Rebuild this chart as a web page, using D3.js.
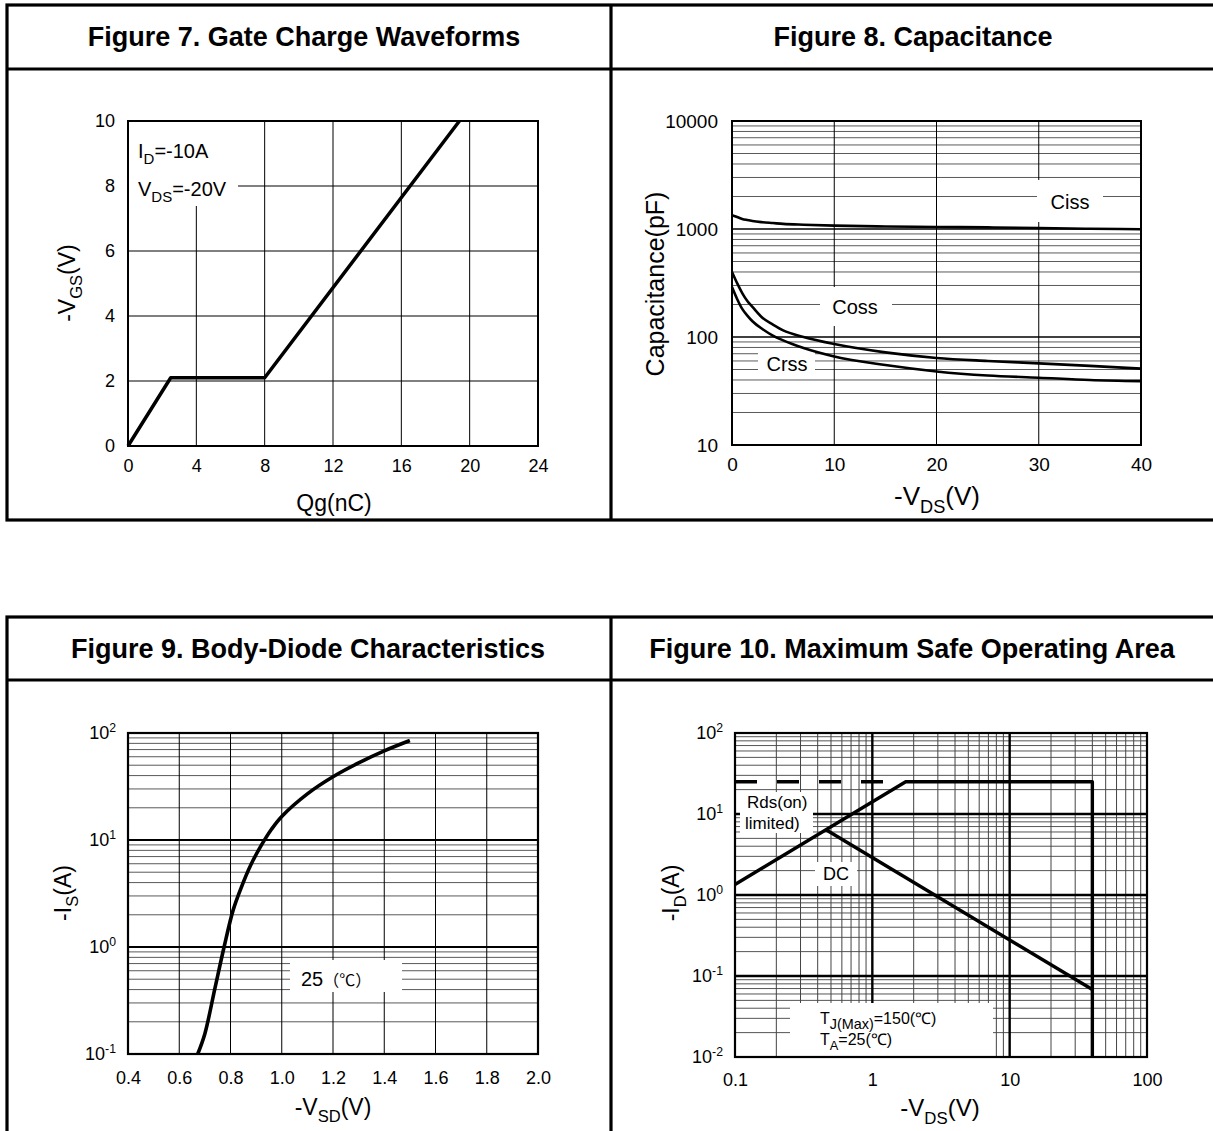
<!DOCTYPE html>
<html><head><meta charset="utf-8">
<script src="https://cdn.jsdelivr.net/npm/d3@7"></script>
<style>body{margin:0;background:#fff} svg{display:block} text{font-family:"Liberation Sans",Arial,Helvetica,sans-serif;fill:#000}</style>
</head><body><svg id="c" width="1213" height="1131"></svg>
<script>
// ---------- data ----------
const gateChargeQ = [0, 2.5, 8, 19.4];
const gateChargeV = [0, 2.1, 2.1, 10];
const fig7XTicks = [0, 4, 8, 12, 16, 20, 24];
const fig7YTicks = [0, 2, 4, 6, 8, 10];

const capVds = [0, 0.5, 1, 1.5, 2, 3, 4, 5, 7, 10, 15, 20, 25, 30, 35, 40];
const cissValues = [1340, 1290, 1240, 1210, 1185, 1155, 1135, 1115, 1095, 1075, 1055, 1045, 1035, 1020, 1005, 995];
const cossValues = [400, 315, 255, 215, 190, 150, 130, 115, 100, 86, 72, 64, 60, 57, 54, 51];
const crssValues = [290, 225, 182, 158, 140, 118, 103, 93, 79, 66, 55, 48, 44, 42, 40, 39];
const fig8XTicks = [0, 10, 20, 30, 40];
const fig8YTicks = [10, 100, 1000, 10000];

const diodeVsd = [0.672, 0.70, 0.74, 0.775, 0.81, 0.84, 0.88, 0.92, 0.96, 1.0, 1.1, 1.2, 1.3, 1.4, 1.5];
const diodeIs = [0.1, 0.155, 0.42, 1.0, 2.2, 3.5, 5.9, 8.9, 12.6, 16.6, 27, 39, 52.5, 68, 85];
const fig9XTicks = [0.4, 0.6, 0.8, 1.0, 1.2, 1.4, 1.6, 1.8, 2.0];
const fig9YTicks = [0.1, 1, 10, 100];

const soaVds = [0.1, 1.75, 40, 40];
const soaId = [1.35, 25, 25, 0.01];
const dcVds = [0.46, 40];
const dcId = [6.4, 0.068];
const rdsDashVds = [0.1, 1.25];
const rdsDashId = [25, 25];
const fig10XTicks = [0.1, 1, 10, 100];
const fig10YTicks = [0.01, 0.1, 1, 10, 100];

// ---------- helpers ----------
const svg = d3.select("#c");
function rich(sel, parts, size, subRatio) {
  const r = subRatio || 0.7;
  let shift = 0;
  parts.forEach(([s, kind]) => {
    const target = kind === 'sub' ? size * 0.32 : kind === 'sup' ? -size * 0.42 : 0;
    sel.append("tspan").attr("dy", target - shift).attr("font-size", kind === 'n' ? size : size * r).text(s);
    shift = target;
  });
  return sel;
}
function styleAxis(a, size) {
  a.attr("font-family", null).attr("font-size", null);
  a.select(".domain").remove();
  a.selectAll(".tick line").remove();
  a.selectAll("text").attr("font-size", size).attr("fill", "#000");
}
function powLabels(a, size) {
  a.selectAll(".tick text").each(function (d) {
    const e = Math.round(Math.log10(d));
    const t = d3.select(this);
    t.text("10");
    t.append("tspan").attr("dy", -size * 0.42).attr("font-size", size * 0.68).text(e);
  });
}
function minorLog(domain) {
  const out = [];
  for (let d = domain[0]; d < domain[1] * 0.999; d *= 10) {
    for (let k = 2; k <= 9; k++) out.push(d * k);
  }
  return out;
}
function whiteBox(g, x, y, w, h) {
  g.append("rect").attr("x", x).attr("y", y).attr("width", w).attr("height", h).attr("fill", "#fff");
}
function hLines(g, vals, xs, ys, stroke, w) {
  g.append("g").selectAll("line").data(vals).join("line")
    .attr("x1", xs.range()[0]).attr("x2", xs.range()[1])
    .attr("y1", d => ys(d)).attr("y2", d => ys(d))
    .attr("stroke", stroke).attr("stroke-width", w);
}
function vLines(g, vals, xs, ys, stroke, w) {
  g.append("g").selectAll("line").data(vals).join("line")
    .attr("y1", ys.range()[0]).attr("y2", ys.range()[1])
    .attr("x1", d => xs(d)).attr("x2", d => xs(d))
    .attr("stroke", stroke).attr("stroke-width", w);
}
function frame(g, xs, ys, w) {
  const [x0, x1] = xs.range(), [y1, y0] = ys.range();
  g.append("rect").attr("x", x0).attr("y", y0).attr("width", x1 - x0).attr("height", y1 - y0)
    .attr("fill", "none").attr("stroke", "#000").attr("stroke-width", w);
}
function curve(g, xsArr, ysArr, xs, ys, w, c, dash) {
  const p = g.append("path").datum(d3.zip(xsArr, ysArr))
    .attr("d", d3.line().x(d => xs(d[0])).y(d => ys(d[1])).curve(c || d3.curveLinear))
    .attr("fill", "none").attr("stroke", "#000").attr("stroke-width", w).attr("stroke-linejoin", "round");
  if (dash) p.attr("stroke-dasharray", dash);
  return p;
}

// ---------- tables ----------
function table(top, head, bottom) {
  const g = svg.append("g").attr("stroke", "#000").attr("stroke-width", 3.2).attr("fill", "none");
  g.append("rect").attr("x", 7).attr("y", top).attr("width", 1213).attr("height", bottom - top);
  g.append("line").attr("x1", 7).attr("x2", 1213).attr("y1", head).attr("y2", head);
  g.append("line").attr("x1", 611).attr("x2", 611).attr("y1", top).attr("y2", bottom);
}
table(5, 69, 520);
table(617, 680, 1140);
const titles = [
  ["Figure 7. Gate Charge Waveforms", 304, 46],
  ["Figure 8. Capacitance", 913, 46],
  ["Figure 9. Body-Diode Characteristics", 308, 658],
  ["Figure 10. Maximum Safe Operating Area", 912, 658]
];
svg.append("g").selectAll("text").data(titles).join("text")
  .attr("x", d => d[1]).attr("y", d => d[2]).attr("text-anchor", "middle")
  .attr("font-size", 27).attr("font-weight", "bold").text(d => d[0]);

// ---------- Figure 7 ----------
{
  const xs = d3.scaleLinear().domain([0, 24]).range([128, 538]);
  const ys = d3.scaleLinear().domain([0, 10]).range([446, 121]);
  const g = svg.append("g");
  vLines(g, fig7XTicks.slice(1, -1), xs, ys, "#000", 1);
  hLines(g, fig7YTicks.slice(1, -1), xs, ys, "#000", 1);
  whiteBox(g, 129, 122, 109, 84);
  frame(g, xs, ys, 2);
  curve(g, gateChargeQ, gateChargeV, xs, ys, 3.5);
  const ax = g.append("g").attr("transform", `translate(0,${ys(0)})`)
    .call(d3.axisBottom(xs).tickValues(fig7XTicks).tickSize(0).tickPadding(13).tickFormat(d3.format("d")));
  styleAxis(ax, 18);
  const ay = g.append("g").attr("transform", `translate(${xs(0)},0)`)
    .call(d3.axisLeft(ys).tickValues(fig7YTicks).tickSize(0).tickPadding(13).tickFormat(d3.format("d")));
  styleAxis(ay, 18);
  rich(g.append("text").attr("x", 138).attr("y", 158), [["I", "n"], ["D", "sub"], ["=-10A", "n"]], 20, 0.75);
  rich(g.append("text").attr("x", 138).attr("y", 196), [["V", "n"], ["DS", "sub"], ["=-20V", "n"]], 20, 0.75);
  g.append("text").attr("x", 334).attr("y", 511).attr("text-anchor", "middle").attr("font-size", 23).text("Qg(nC)");
  rich(g.append("text").attr("transform", "translate(75,283) rotate(-90)").attr("text-anchor", "middle"),
    [["-V", "n"], ["GS", "sub"], ["(V)", "n"]], 23, 0.72);
}

// ---------- Figure 8 ----------
{
  const xs = d3.scaleLinear().domain([0, 40]).range([732, 1141]);
  const ys = d3.scaleLog().domain([10, 10000]).range([445, 121]);
  const g = svg.append("g");
  hLines(g, minorLog([10, 10000]), xs, ys, "#5a5a5a", 1);
  hLines(g, [100, 1000], xs, ys, "#000", 1.6);
  vLines(g, fig8XTicks.slice(1, -1), xs, ys, "#000", 1);
  whiteBox(g, 1037, 180, 66, 42);
  whiteBox(g, 820, 287, 72, 39);
  whiteBox(g, 758, 350, 57, 28);
  frame(g, xs, ys, 2);
  curve(g, capVds, cissValues, xs, ys, 2.6, d3.curveMonotoneX);
  curve(g, capVds, cossValues, xs, ys, 2.6, d3.curveMonotoneX);
  curve(g, capVds, crssValues, xs, ys, 2.6, d3.curveMonotoneX);
  const ax = g.append("g").attr("transform", `translate(0,${ys(10)})`)
    .call(d3.axisBottom(xs).tickValues(fig8XTicks).tickSize(0).tickPadding(13).tickFormat(d3.format("d")));
  styleAxis(ax, 19);
  const ay = g.append("g").attr("transform", `translate(${xs(0)},0)`)
    .call(d3.axisLeft(ys).tickValues(fig8YTicks).tickSize(0).tickPadding(14).tickFormat(d3.format("d")));
  styleAxis(ay, 19);
  [["Ciss", 1070, 209], ["Coss", 855, 314], ["Crss", 787, 371]].forEach(([t, x, y]) =>
    g.append("text").attr("x", x).attr("y", y).attr("text-anchor", "middle").attr("font-size", 20).text(t));
  rich(g.append("text").attr("x", 937).attr("y", 505).attr("text-anchor", "middle"),
    [["-V", "n"], ["DS", "sub"], ["(V)", "n"]], 26);
  g.append("text").attr("transform", "translate(664,284) rotate(-90)").attr("text-anchor", "middle")
    .attr("font-size", 25).text("Capacitance(pF)");
}

// ---------- Figure 9 ----------
{
  const xs = d3.scaleLinear().domain([0.4, 2.0]).range([128, 538]);
  const ys = d3.scaleLog().domain([0.1, 100]).range([1054, 733]);
  const g = svg.append("g");
  hLines(g, minorLog([0.1, 100]), xs, ys, "#5a5a5a", 1);
  hLines(g, [1, 10], xs, ys, "#000", 2);
  vLines(g, fig9XTicks.slice(1, -1), xs, ys, "#000", 1);
  whiteBox(g, 290, 960, 112, 32);
  frame(g, xs, ys, 2.2);
  curve(g, diodeVsd, diodeIs, xs, ys, 3.6, d3.curveCatmullRom.alpha(0.5));
  const ax = g.append("g").attr("transform", `translate(0,${ys(0.1)})`)
    .call(d3.axisBottom(xs).tickValues(fig9XTicks).tickSize(0).tickPadding(17).tickFormat(d3.format(".1f")));
  styleAxis(ax, 18);
  const ay = g.append("g").attr("transform", `translate(${xs(0.4)},0)`)
    .call(d3.axisLeft(ys).tickValues(fig9YTicks).tickSize(0).tickPadding(12));
  styleAxis(ay, 18);
  powLabels(ay, 18);
  const t = g.append("text").attr("x", 301).attr("y", 986).attr("font-size", 20);
  t.append("tspan").text("25");
  t.append("tspan").attr("font-size", 16).attr("font-family", '"Noto Sans CJK SC", sans-serif').text("（℃）");
  rich(g.append("text").attr("x", 333).attr("y", 1115).attr("text-anchor", "middle"),
    [["-V", "n"], ["SD", "sub"], ["(V)", "n"]], 23, 0.72);
  rich(g.append("text").attr("transform", "translate(71,893) rotate(-90)").attr("text-anchor", "middle"),
    [["-I", "n"], ["S", "sub"], ["(A)", "n"]], 23, 0.72);
}

// ---------- Figure 10 ----------
{
  const xs = d3.scaleLog().domain([0.1, 100]).range([735, 1147]);
  const ys = d3.scaleLog().domain([0.01, 100]).range([1057, 733]);
  const g = svg.append("g");
  hLines(g, minorLog([0.01, 100]), xs, ys, "#555", 1);
  vLines(g, minorLog([0.1, 100]), xs, ys, "#444", 1);
  hLines(g, [0.1, 1, 10], xs, ys, "#000", 2.4);
  vLines(g, [1, 10], xs, ys, "#000", 2.4);
  whiteBox(g, 740, 792, 73, 41);
  whiteBox(g, 815, 862, 42, 24);
  whiteBox(g, 790, 1003, 203, 53);
  frame(g, xs, ys, 2.2);
  curve(g, rdsDashVds, rdsDashId, xs, ys, 3.6, null, "22,20");
  curve(g, soaVds, soaId, xs, ys, 3.4);
  curve(g, dcVds, dcId, xs, ys, 3.4);
  const ax = g.append("g").attr("transform", `translate(0,${ys(0.01)})`)
    .call(d3.axisBottom(xs).tickValues(fig10XTicks).tickSize(0).tickPadding(16).tickFormat(d => String(d)));
  styleAxis(ax, 18);
  const ay = g.append("g").attr("transform", `translate(${xs(0.1)},0)`)
    .call(d3.axisLeft(ys).tickValues(fig10YTicks).tickSize(0).tickPadding(12));
  styleAxis(ay, 18);
  powLabels(ay, 18);
  g.append("text").attr("x", 747).attr("y", 808).attr("font-size", 17).text("Rds(on)");
  g.append("text").attr("x", 745).attr("y", 829).attr("font-size", 17).text("limited)");
  g.append("text").attr("x", 836).attr("y", 880).attr("text-anchor", "middle").attr("font-size", 18).text("DC");
  rich(g.append("text").attr("x", 820).attr("y", 1024), [["T", "n"], ["J(Max)", "sub"], ["=150(℃)", "n"]], 16, 0.9);
  rich(g.append("text").attr("x", 820).attr("y", 1045), [["T", "n"], ["A", "sub"], ["=25(℃)", "n"]], 16, 0.8);
  rich(g.append("text").attr("x", 940).attr("y", 1116).attr("text-anchor", "middle"),
    [["-V", "n"], ["DS", "sub"], ["(V)", "n"]], 24);
  rich(g.append("text").attr("transform", "translate(679,893) rotate(-90)").attr("text-anchor", "middle"),
    [["-I", "n"], ["D", "sub"], ["(A)", "n"]], 23, 0.72);
}
</script></body></html>
